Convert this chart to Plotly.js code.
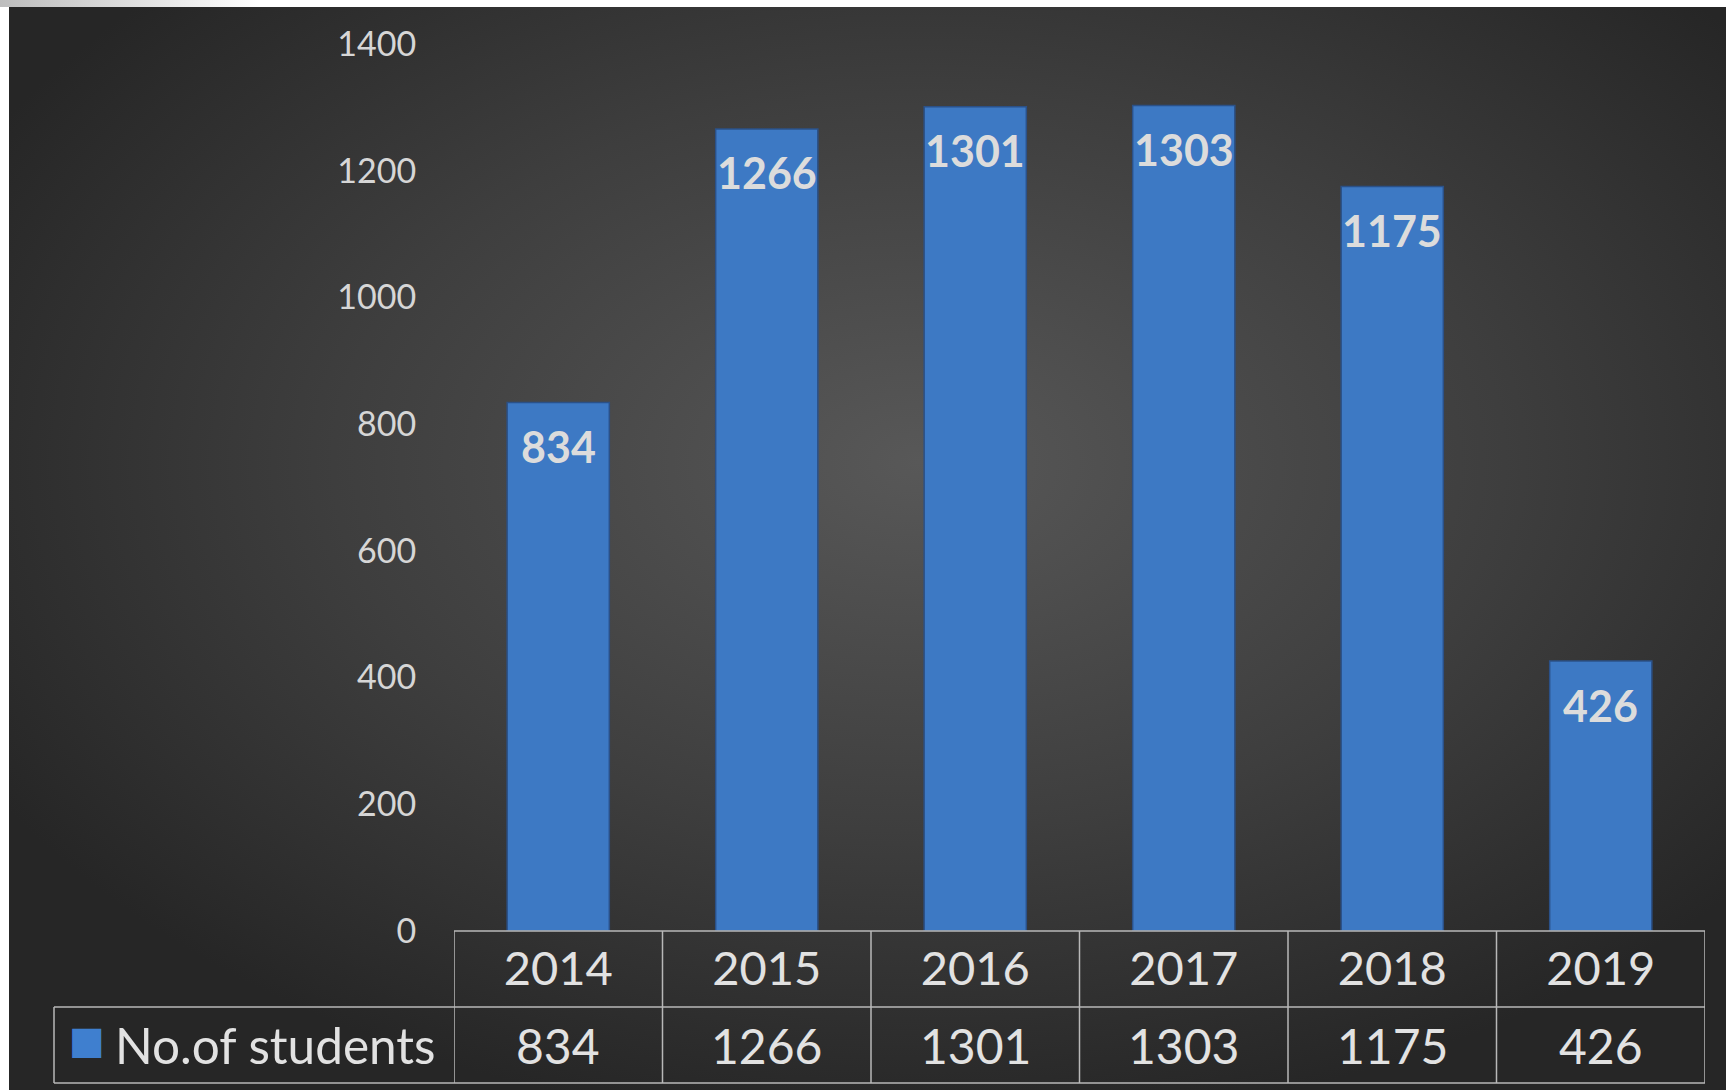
<!DOCTYPE html>
<html>
<head>
<meta charset="utf-8">
<script src="https://cdn.plot.ly/plotly-3.0.1.min.js"></script>
<style>
  html, body { margin: 0; padding: 0; background: #ffffff; }
  #chart { width: 1726px; height: 1090px; }
</style>
</head>
<body>
<div id="chart"></div>
<script>
// ---- data ----
const years = ['2014', '2015', '2016', '2017', '2018', '2019'];
const students = [834, 1266, 1301, 1303, 1175, 426];
const seriesName = 'No.of students';
const yTickValues = [0, 200, 400, 600, 800, 1000, 1200, 1400];

// ---- styles ----
const W = 1726, H = 1090;
const barColor = '#3d79c4';
const swatchColor = '#3f7fcf';
const textColor = '#e2e2e2';
const tickColor = '#d6d6d6';
const gridLine = '#b8b8b8';
const FONT = 'Lato, "Open Sans", sans-serif';

const plotLeft = 454, plotRight = 1705;
const zeroY = 931, topY = 44;
const row1Bottom = 1007, tableBottom = 1083, tableLeft = 54;
const py = v => 1 - v / H;   // pixel-from-top -> paper y
const px = v => v / W;       // pixel-from-left -> paper x

const bgSvg = "<svg xmlns='http://www.w3.org/2000/svg' width='1717' height='1083' viewBox='0 0 1717 1083' preserveAspectRatio='none'>" +
  "<defs><radialGradient id='g' cx='0.53' cy='0.42' r='0.62'>" +
  "<stop offset='0' stop-color='#585858'/><stop offset='0.55' stop-color='#3e3e3e'/><stop offset='1' stop-color='#262626'/>" +
  "</radialGradient></defs><rect x='0' y='0' width='1717' height='1083' fill='url(#g)'/></svg>";
const shadowSvg = "<svg xmlns='http://www.w3.org/2000/svg' width='260' height='7' viewBox='0 0 260 7' preserveAspectRatio='none'>" +
  "<defs><linearGradient id='s' x1='0' y1='0' x2='1' y2='0'>" +
  "<stop offset='0' stop-color='#bdbdbd'/><stop offset='1' stop-color='#ffffff'/></linearGradient></defs>" +
  "<rect width='260' height='7' fill='url(#s)'/></svg>";

const bars = {
  type: 'bar',
  name: seriesName,
  x: years,
  y: students,
  marker: { color: barColor, line: { color: '#2b5188', width: 1.5 } },
  hoverinfo: 'x+y',
  showlegend: false
};

// data labels inside the bars (near the top)
const barLabels = students.map((v, i) => ({
  x: i, y: v, xref: 'x', yref: 'y',
  text: '<b>' + v + '</b>',
  showarrow: false,
  yanchor: 'middle',
  yshift: -44,
  font: { family: FONT, size: 43, color: '#dcdcdc' }
}));

// data-table value row
const rowCenter2 = (row1Bottom + tableBottom) / 2;
const tableValues = students.map((v, i) => ({
  x: i, xref: 'x', y: py(rowCenter2), yref: 'paper',
  text: String(v), showarrow: false, yanchor: 'middle', xanchor: 'center',
  font: { family: FONT, size: 48, color: textColor }
}));
const legendSwatch = {
  x: px(67), xref: 'paper', y: py(rowCenter2), yref: 'paper',
  xanchor: 'left', yanchor: 'middle', showarrow: false, yshift: 5,
  text: '■',
  font: { family: 'DejaVu Sans', size: 38, color: swatchColor }
};
const legendText = {
  x: px(113), xref: 'paper', y: py(rowCenter2), yref: 'paper',
  xanchor: 'left', yanchor: 'middle', showarrow: false,
  text: seriesName,
  font: { family: FONT, size: 49.5, color: textColor }
};

// table grid lines
const lineStyle = { color: gridLine, width: 1.5 };
const shapes = [
  { type: 'line', xref: 'paper', yref: 'paper', x0: px(plotLeft), x1: px(plotRight), y0: py(zeroY), y1: py(zeroY), line: lineStyle },
  { type: 'line', xref: 'paper', yref: 'paper', x0: px(tableLeft), x1: px(plotRight), y0: py(row1Bottom), y1: py(row1Bottom), line: lineStyle },
  { type: 'line', xref: 'paper', yref: 'paper', x0: px(tableLeft), x1: px(plotRight), y0: py(tableBottom), y1: py(tableBottom), line: lineStyle },
  { type: 'line', xref: 'paper', yref: 'paper', x0: px(tableLeft), x1: px(tableLeft), y0: py(row1Bottom), y1: py(tableBottom), line: lineStyle }
].concat(years.concat(['end']).map((_, i) => ({
  type: 'line', xref: 'x', yref: 'paper', x0: i - 0.5, x1: i - 0.5,
  y0: py(zeroY), y1: py(tableBottom), line: lineStyle
})));

const layout = {
  width: W, height: H,
  autosize: false,
  margin: { l: 0, r: 0, t: 0, b: 0, pad: 0 },
  paper_bgcolor: '#ffffff',
  plot_bgcolor: 'rgba(0,0,0,0)',
  bargap: 0.51,
  showlegend: false,
  xaxis: {
    type: 'category',
    domain: [px(plotLeft), px(plotRight)],
    range: [-0.5, years.length - 0.5],
    tickfont: { family: FONT, size: 47, color: textColor },
    ticks: '',
    ticklabelstandoff: 6,
    showgrid: false,
    zeroline: false,
    showline: false,
    fixedrange: true
  },
  yaxis: {
    domain: [py(zeroY), py(topY)],
    range: [0, 1400],
    tickvals: yTickValues,
    ticktext: yTickValues.map(String),
    showgrid: false,
    zeroline: false,
    showline: false,
    ticks: 'outside',
    ticklen: 30,
    tickcolor: 'rgba(0,0,0,0)',
    tickfont: { family: FONT, size: 34, color: tickColor },
    fixedrange: true
  },
  images: [
    { source: 'data:image/svg+xml;charset=utf-8,' + encodeURIComponent(bgSvg),
      xref: 'paper', yref: 'paper', x: px(9), y: py(7), sizex: 1 - px(9), sizey: py(7),
      xanchor: 'left', yanchor: 'top', sizing: 'stretch', layer: 'below' },
    { source: 'data:image/svg+xml;charset=utf-8,' + encodeURIComponent(shadowSvg),
      xref: 'paper', yref: 'paper', x: 0, y: 1, sizex: px(260), sizey: 7 / H,
      xanchor: 'left', yanchor: 'top', sizing: 'stretch', layer: 'below' }
  ],
  shapes: shapes,
  annotations: barLabels.concat(tableValues).concat([legendSwatch, legendText])
};

Plotly.newPlot('chart', [bars], layout, { displayModeBar: false });
</script>
</body>
</html>
